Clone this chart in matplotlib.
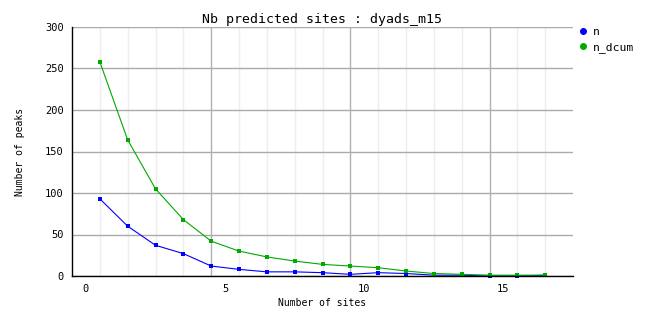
import numpy as np
import matplotlib
matplotlib.use("Agg")
import matplotlib.pyplot as plt
from matplotlib.lines import Line2D

# number of sites (bin centres) and counts
sites = np.arange(17) + 0.5
n = [93, 60, 37, 27, 12, 8, 5, 5, 4, 2, 4, 3, 1, 1, 0, 0, 1]
n_dcum = [258, 164, 105, 68, 42, 30, 23, 18, 14, 12, 10, 6, 3, 2, 1, 1, 1]
series = ["n", "n_dcum"]
colors = ["#0000ff", "#00aa00"]

mono = "DejaVu Sans Mono"

fig = plt.figure(figsize=(6.62, 3.28), dpi=100)
ax = fig.add_axes([72 / 662, 1 - 276 / 328, 501 / 662, 249 / 328])

ax.set_xlim(-0.5, 17.5)
ax.set_ylim(0, 300)

# grid: light minor lines at every bin, darker every 5
minor = [x for x in np.arange(0.5, 17.5, 1) if x not in (4.5, 9.5, 14.5)]
ax.set_xticks(minor, minor=True)
ax.grid(True, which="minor", axis="x", color="#eeeeee", lw=1)
for gx in [4.5, 9.5, 14.5]:
    ax.axvline(gx, color="#b0b0b0", lw=1, zorder=1)
ax.set_yticks(np.arange(0, 301, 50))
ax.grid(True, which="major", axis="y", color="#aaaaaa", lw=1)
ax.set_axisbelow(True)

ax.set_xticks([0, 5, 10, 15])
ax.tick_params(axis="both", which="both", length=0, labelsize=7.5, pad=6)
for lab in ax.get_xticklabels() + ax.get_yticklabels():
    lab.set_family(mono)

for s in ["top", "right"]:
    ax.spines[s].set_visible(False)
for s in ["left", "bottom"]:
    ax.spines[s].set_color("black")
    ax.spines[s].set_linewidth(1)
    ax.spines[s].set_zorder(4)

for vals, c in zip([n, n_dcum], colors):
    ax.plot(sites, vals, color=c, lw=0.8, marker="s", ms=2.2, mew=0,
            clip_on=False, zorder=3)

ax.set_title("Nb predicted sites : dyads_m15", family=mono, fontsize=9.5, pad=3)
ax.set_xlabel("Number of sites", family=mono, fontsize=7, labelpad=3)
ax.set_ylabel("Number of peaks", family=mono, fontsize=7, labelpad=14)

handles = [Line2D([], [], ls="none", marker="o", ms=4, color=c) for c in colors]
ax.legend(handles, series, loc="upper left", bbox_to_anchor=(0.99, 1.04), frameon=False,
          prop={"family": mono, "size": 8.2}, handlelength=0.8,
          handletextpad=0.5, labelspacing=0.45)

fig.savefig("out.png", dpi=100)
